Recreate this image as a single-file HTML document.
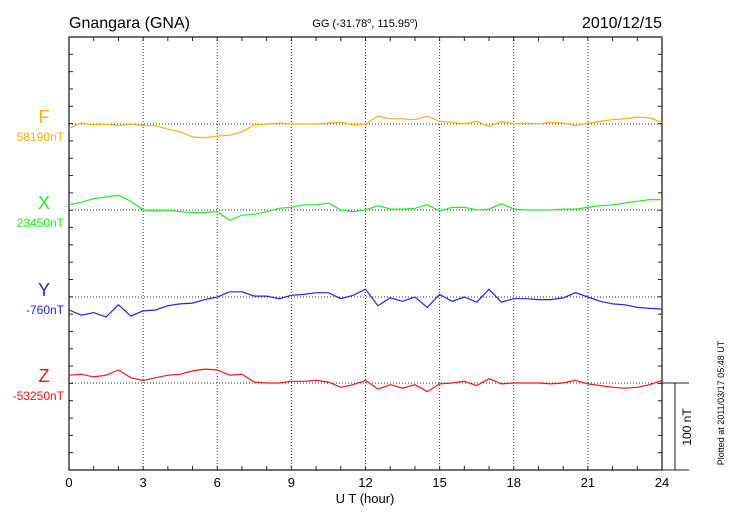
<!DOCTYPE html>
<html><head><meta charset="utf-8"><style>
body{margin:0;background:#fff;}
svg{display:block;font-family:"Liberation Sans",sans-serif;}
</style></head><body>
<svg id="c" width="730" height="520"></svg>
<script>
const hours=[];for(let i=0;i<=48;i++)hours.push(i*0.5);
const seriesNames=["F","X","Y","Z"];
const baseLabels=["58190nT","23450nT","-760nT","-53250nT"];
const colors=["#ffb000","#22ee22","#2222ee","#ff1111"];
const fVals=[-5,1,-1,0,-2,0,-2,-2,-6,-9,-15,-16,-14,-13,-9,-1,0,1,0,0,0,1,2,-1,0,9,6,6,5,9,3,2,0,3,-3,3,0,1,0,2,1,-2,1,3,5,6,8,7,2];
const xVals=[6,9,13,15,17,10,0,-1,0,-2,-3,-3,-2,-12,-6,-5,-2,2,3,6,6,8,0,-2,0,5,1,1,2,6,-1,3,3,0,1,7,1,0,0,0,1,1,3,5,6,8,10,12,12];
const yVals=[-15,-21,-18,-23,-9,-22,-16,-15,-10,-8,-7,-3,0,6,6,1,1,-2,2,3,5,5,-2,2,9,-10,-1,-5,0,-12,3,-5,0,-6,9,-6,-2,-2,-3,-3,-1,5,0,-5,-8,-9,-12,-13,-14];
const zVals=[9,10,7,9,15,6,3,6,9,10,14,16,15,9,10,1,0,0,2,2,3,1,-5,-2,3,-7,-2,-6,-2,-10,-1,0,2,-3,5,-1,0,0,0,-1,0,3,-1,-3,-5,-6,-5,-2,3];
const xTickLabels=["0","3","6","9","12","15","18","21","24"];
const allVals=[fVals,xVals,yVals,zVals];

const L=69,R=662,T=37,B=470;
const baselines=[124,210,297,383];
const pxPerNT=0.866;
const sx=h=>L+(R-L)*h/24;
const sy=(i,v)=>baselines[i]-v*pxPerNT;
const svg=document.getElementById('c');
const NS='http://www.w3.org/2000/svg';
function mk(tag,attrs,parent){const e=document.createElementNS(NS,tag);for(const k in attrs)e.setAttribute(k,attrs[k]);(parent||svg).appendChild(e);return e;}
function txt(s,attrs){const e=mk('text',attrs);e.textContent=s;return e;}

// grid verticals
for(let h=3;h<24;h+=3){const l=mk('line',{x1:sx(h),x2:sx(h),y1:T,y2:B,stroke:'#333','stroke-dasharray':'1,2','stroke-width':1});

}
// baselines
for(let i=0;i<4;i++){const l=mk('line',{x1:L,x2:R,y1:baselines[i],y2:baselines[i],stroke:'#333','stroke-dasharray':'1,2','stroke-width':1});

}
// frame
const fr=mk('rect',{x:L,y:T,width:R-L,height:B-T,fill:'none',stroke:'#222','stroke-width':1.3});


// ticks
for(let h=1;h<24;h++){mk('line',{x1:sx(h),x2:sx(h),y1:T,y2:T+4,stroke:'#222'});mk('line',{x1:sx(h),x2:sx(h),y1:B,y2:B-4,stroke:'#222'});}
const tk=(B-T)/25;
for(let k=1;k<25;k++){const y=T+k*tk;mk('line',{x1:L,x2:L+4,y1:y,y2:y,stroke:'#222'});mk('line',{x1:R,x2:R-4,y1:y,y2:y,stroke:'#222'});}
// x tick labels
xTickLabels.forEach((s,i)=>{const t=txt(s,{x:sx(i*3),y:487,'font-size':13,'text-anchor':'middle',fill:'#000'});

});
const xt=txt('U T (hour)',{x:365,y:503,'font-size':13,'text-anchor':'middle',fill:'#000'});


// series
for(let i=0;i<4;i++){
 const d=allVals[i].map((v,j)=>(j?'L':'M')+sx(hours[j]).toFixed(1)+','+sy(i,v).toFixed(1)).join('');
 const p=mk('path',{d:d,fill:'none',stroke:colors[i],'stroke-width':1.2});
 
 
 const n=txt(seriesNames[i],{x:44,y:baselines[i]-1,'font-size':18,'text-anchor':'middle',fill:colors[i]});
 
 
 const b=txt(baseLabels[i],{x:64,y:baselines[i]+17,'font-size':12,'text-anchor':'end',fill:colors[i]});
 
 
}
// scale bar
mk('line',{x1:R,x2:689,y1:383,y2:383,stroke:'#222'});
mk('line',{x1:R,x2:689,y1:B,y2:B,stroke:'#222'});
const sb=mk('line',{x1:675,x2:675,y1:383,y2:B,stroke:'#222'});


const st=txt('100 nT',{x:0,y:0,'font-size':12,'text-anchor':'middle',fill:'#000',transform:'translate(691,427) rotate(-90)'});


const pt=txt('Plotted at 2011/03/17 05:48 UT',{x:0,y:0,'font-size':9,'text-anchor':'middle',fill:'#000',transform:'translate(724,403) rotate(-90)'});


// titles
const t1=txt('Gnangara (GNA)',{x:69,y:28,'font-size':16,fill:'#000'});


const t2=mk('text',{x:365,y:27,'font-size':11,'text-anchor':'middle',fill:'#000'});
t2.innerHTML='GG (-31.78<tspan font-size="7" dy="-4">o</tspan><tspan dy="4">, 115.95</tspan><tspan font-size="7" dy="-4">o</tspan><tspan dy="4">)</tspan>';


const t3=txt('2010/12/15',{x:662,y:28,'font-size':16,'text-anchor':'end',fill:'#000'});


</script>
</body></html>
